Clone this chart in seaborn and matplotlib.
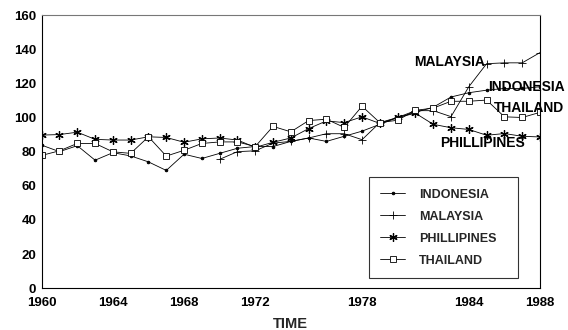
import numpy as np
import pandas as pd
import matplotlib
matplotlib.use("Agg")
import matplotlib.pyplot as plt
import seaborn as sns

years = list(range(1960, 1989))
indonesia = [83.8, 80.0, 83.5, 75.0, 79.4, 77.5, 74.0, 69.0, 78.5, 76.0,
             79.0, 82.0, 83.0, 83.0, 86.0, 88.0, 86.0, 89.0, 92.0, 96.0,
             100.0, 103.0, 106.0, 112.0, 114.5, 116.0, 117.0, 117.0, 118.0]
malaysia_years = list(range(1970, 1989))
malaysia = [75.5, 80.0, 80.5, 85.0, 86.0, 88.0, 90.5, 90.5, 87.0, 97.0,
            100.0, 104.0, 104.0, 100.5, 118.0, 131.5, 132.0, 132.0, 138.0]
phillipines = [89.7, 90.0, 91.4, 87.2, 86.8, 86.8, 88.7, 88.3, 85.5, 87.5,
               88.0, 86.8, 82.5, 85.5, 88.0, 93.5, 98.0, 97.0, 100.4, 96.5,
               100.0, 102.5, 96.0, 94.0, 93.0, 89.6, 90.6, 89.0, 88.6]
thailand = [77.8, 80.5, 84.8, 84.8, 79.9, 79.0, 88.7, 77.4, 80.8, 84.8,
            85.7, 85.7, 83.0, 94.8, 91.6, 98.2, 99.0, 94.2, 106.6, 97.0,
            98.4, 104.2, 105.5, 109.5, 109.5, 110.2, 100.4, 100.0, 103.0]

series_names = ["INDONESIA", "MALAYSIA", "PHILLIPINES", "THAILAND"]
xtick_labels = [1960, 1964, 1968, 1972, 1978, 1984, 1988]
yticks = [0, 20, 40, 60, 80, 100, 120, 140, 160]

frames = [
    pd.DataFrame({"year": years, "value": indonesia, "country": "INDONESIA"}),
    pd.DataFrame({"year": malaysia_years, "value": malaysia, "country": "MALAYSIA"}),
    pd.DataFrame({"year": years, "value": phillipines, "country": "PHILLIPINES"}),
    pd.DataFrame({"year": years, "value": thailand, "country": "THAILAND"}),
]
df = pd.concat(frames, ignore_index=True)

sns.set_theme(style="white")
plt.rcParams["font.family"] = ["Liberation Sans", "DejaVu Sans"]
plt.rcParams["font.weight"] = "bold"

fig = plt.figure(figsize=(5.68, 3.30), dpi=100)
ax = fig.add_axes([0.0734, 0.1264, 0.8773, 0.8281])

styles = {
    "INDONESIA": dict(marker="o", markersize=1.8, markerfacecolor="black",
                      markeredgecolor="black"),
    "MALAYSIA": dict(marker="+", markersize=5.5, markeredgewidth=0.6,
                     markeredgecolor="black"),
    "PHILLIPINES": dict(marker=(6, 2, 0), markersize=6, markeredgewidth=0.9,
                        markeredgecolor="black"),
    "THAILAND": dict(marker="s", markersize=4.8, markerfacecolor="white",
                     markeredgecolor="black", markeredgewidth=0.6),
}

for name in series_names:
    sub = df[df["country"] == name]
    sns.lineplot(data=sub, x="year", y="value", ax=ax, color="black",
                 linewidth=0.6, label=name, **styles[name])

ax.set_xlim(1960, 1988)
ax.set_ylim(0, 160)
ax.set_xticks(years)
ax.set_xticklabels([str(y) if y in xtick_labels else "" for y in years])
ax.set_yticks(yticks)
ax.tick_params(axis="both", direction="in", length=4, width=0.7,
               colors="black", labelsize=9.5)
ax.tick_params(axis="x", pad=6)
ax.tick_params(axis="y", pad=4)
for lab in ax.get_xticklabels() + ax.get_yticklabels():
    lab.set_fontweight("bold")
ax.set_xlabel("TIME", fontsize=10.5, fontweight="bold", labelpad=6)
ax.set_ylabel("")

for side in ["left", "bottom", "right"]:
    ax.spines[side].set_color("black")
    ax.spines[side].set_linewidth(0.8)
ax.spines["top"].set_color("#777777")
ax.spines["top"].set_linewidth(0.8)
ax.spines["top"].set_linestyle((0, (1, 1)))
ax.spines["bottom"].set_linestyle((0, (2, 1)))

txt = dict(fontsize=10, fontweight="bold", va="center", color="black")
ax.text(1984.9, 132.5, "MALAYSIA", ha="right", **txt)
ax.text(1985.1, 118, "INDONESIA", ha="left", **txt)
ax.text(1985.4, 105.5, "THAILAND", ha="left", **txt)
ax.text(1982.4, 85, "PHILLIPINES", ha="left", **txt)

leg = ax.legend(loc="lower left", bbox_to_anchor=(0.657, 0.038, 0.299, 0.377),
                mode="expand", frameon=True, fancybox=False, edgecolor="black",
                fontsize=9, handlelength=2.0, borderpad=0.9, labelspacing=0.8,
                handletextpad=1.1, borderaxespad=0)
leg.get_frame().set_linewidth(0.8)
for t in leg.get_texts():
    t.set_fontweight("bold")

fig.savefig("out.png", dpi=100)
